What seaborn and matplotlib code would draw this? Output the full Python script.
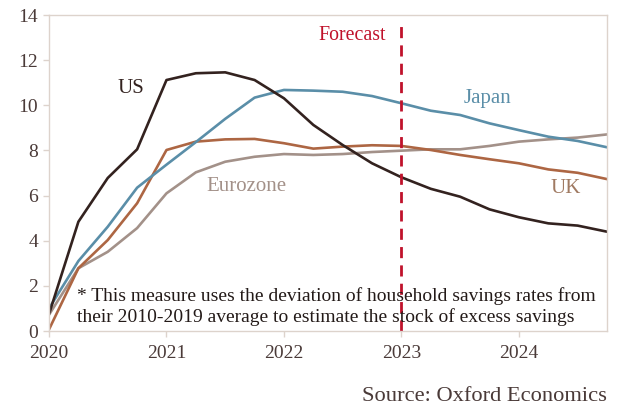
import matplotlib
matplotlib.use("Agg")
import matplotlib.pyplot as plt
import seaborn as sns
import pandas as pd

# Quarterly excess savings (% of disposable income), 2020Q1 - 2024Q4
quarters = pd.period_range("2020Q1", "2024Q4", freq="Q")
us = [0.75, 4.84, 6.78, 8.05, 11.12, 11.42, 11.46, 11.12, 10.31, 9.13,
      8.24, 7.43, 6.81, 6.3, 5.95, 5.39, 5.04, 4.77, 4.67, 4.40]
japan = [1.0, 3.1, 4.62, 6.35, 7.37, 8.37, 9.4, 10.34, 10.68, 10.65,
         10.6, 10.41, 10.09, 9.76, 9.57, 9.2, 8.9, 8.61, 8.42, 8.14]
uk = [0.07, 2.78, 4.03, 5.66, 8.02, 8.39, 8.49, 8.51, 8.32, 8.08,
      8.17, 8.23, 8.2, 8.02, 7.8, 7.61, 7.43, 7.16, 7.01, 6.73]
eurozone = [0.72, 2.78, 3.51, 4.56, 6.1, 7.03, 7.5, 7.72, 7.84, 7.8,
            7.84, 7.93, 7.99, 8.05, 8.05, 8.2, 8.39, 8.49, 8.57, 8.71]
forecast_start = 2023
year_ticks = [2020, 2021, 2022, 2023, 2024]
y_ticks = [0, 2, 4, 6, 8, 10, 12, 14]

palette = {"US": "#33221f", "Japan": "#5a8ea8", "UK": "#ad6643",
           "Eurozone": "#a39189"}
label_colors = {"US": "#33221f", "Japan": "#5a8ea8", "UK": "#a07a62",
                "Eurozone": "#a39189"}

t = [p.year + (p.quarter - 1) / 4 for p in quarters]
df = pd.concat([
    pd.DataFrame({"t": t, "value": v, "region": name})
    for name, v in [("Eurozone", eurozone), ("UK", uk),
                    ("Japan", japan), ("US", us)]
])

sns.set_theme(style="white")
plt.rcParams["font.family"] = ["Liberation Serif", "DejaVu Serif"]

fig = plt.figure(figsize=(6.22, 4.16), dpi=100)
ax = fig.add_axes([0.0788, 0.2043, 0.8971, 0.7596])

sns.lineplot(data=df, x="t", y="value", hue="region", palette=palette,
             linewidth=1.9, legend=False, ax=ax, sort=False)

ax.axvline(forecast_start, ymin=0, ymax=0.975, color="#c0122b",
           linewidth=2.0, dashes=(4, 2.6))

ax.set_xlim(2020, 2024.75)
ax.set_ylim(0, 14)
ax.set_xticks(year_ticks)
ax.set_xticklabels([str(y) for y in year_ticks])
ax.set_yticks(y_ticks)
ax.set_xlabel("")
ax.set_ylabel("")

spine_color = "#ddd3cc"
for s in ax.spines.values():
    s.set_color(spine_color)
    s.set_linewidth(1.0)
ax.tick_params(axis="both", which="major", direction="out", length=4,
               width=1.0, color=spine_color, labelsize=14,
               labelcolor="#4a3a38", pad=4, bottom=True, left=True)
ax.tick_params(axis="x", pad=6)

label_size = 15
ax.text(2020.70, 10.75, "US", color=label_colors["US"], fontsize=label_size,
        ha="center", va="center")
ax.text(2023.73, 10.3, "Japan", color=label_colors["Japan"],
        fontsize=label_size, ha="center", va="center")
ax.text(2021.68, 6.4, "Eurozone", color=label_colors["Eurozone"],
        fontsize=label_size, ha="center", va="center")
ax.text(2024.40, 6.3, "UK", color=label_colors["UK"], fontsize=label_size,
        ha="center", va="center")
ax.text(2022.58, 13.1, "Forecast", color="#c0122b", fontsize=14.3,
        ha="center", va="center")

ax.text(2020.24, 1.55, "* This measure uses the deviation of household savings rates from",
        color="#231a18", fontsize=14, ha="left", va="center")
ax.text(2020.24, 0.62, "their 2010-2019 average to estimate the stock of excess savings",
        color="#231a18", fontsize=14, ha="left", va="center")

fig.text(0.976, 0.036, "Source: Oxford Economics", color="#4a3a38",
         fontsize=16.2, ha="right", va="baseline")

fig.savefig("out.png", dpi=100, facecolor="white")
